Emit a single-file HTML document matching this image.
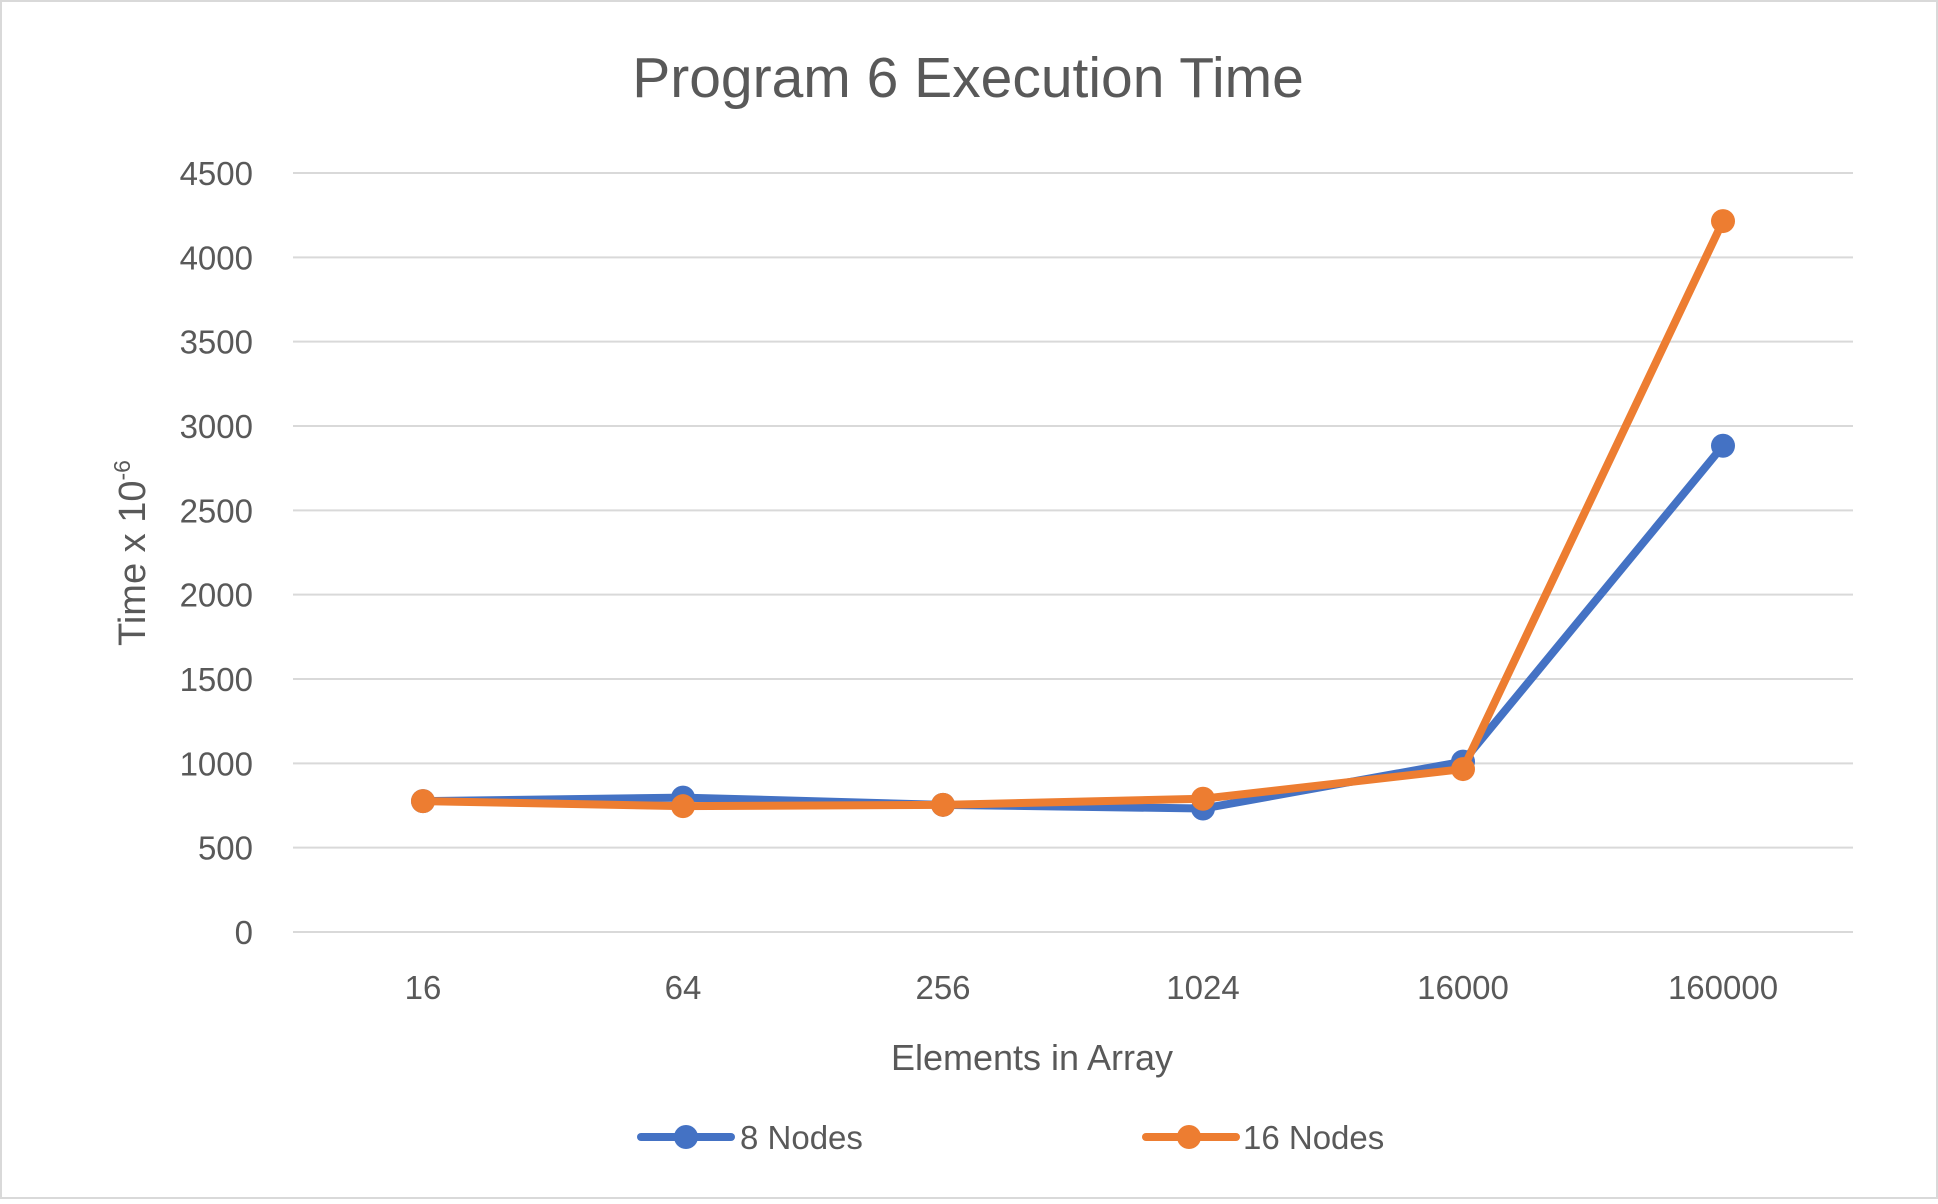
<!DOCTYPE html>
<html><head><meta charset="utf-8"><style>
html,body{margin:0;padding:0;background:#fff}
svg text{font-family:"Liberation Sans",sans-serif;fill:#595959}
</style></head><body>
<svg id="chart" width="1938" height="1199" viewBox="0 0 1938 1199" xmlns="http://www.w3.org/2000/svg">
<rect x="1" y="1" width="1936" height="1197" fill="#fff" stroke="#d9d9d9" stroke-width="2"/>
<text x="968" y="97" font-size="57" text-anchor="middle">Program 6 Execution Time</text>
<g id="grid"></g>
<g id="yticks"></g>
<g id="xticks"></g>
<g id="series"></g>
<text x="1032" y="1070" font-size="36" text-anchor="middle">Elements in Array</text>
<text transform="translate(145,553) rotate(-90)" font-size="38" text-anchor="middle">Time x 10<tspan font-size="23" dy="-15">-6</tspan></text>
<g>
<g>
<line x1="641" y1="1137" x2="731" y2="1137" stroke="#4472C4" stroke-width="8" stroke-linecap="round"/>
<circle cx="686" cy="1137" r="12" fill="#4472C4"/>
<text x="740" y="1149" font-size="33">8 Nodes</text></g>
<g>
<line x1="1146" y1="1137" x2="1236" y2="1137" stroke="#ED7D31" stroke-width="8" stroke-linecap="round"/>
<circle cx="1189" cy="1137" r="12" fill="#ED7D31"/>
<text x="1243" y="1149" font-size="33">16 Nodes</text></g>
</g>
</svg>
<script>
const categories=["16","64","256","1024","16000","160000"];
const nodes8=[776,797,754,732,1010,2883];
const nodes16=[776,746,754,790,966,4215];
const yTicks=[0,500,1000,1500,2000,2500,3000,3500,4000,4500];
const NS="http://www.w3.org/2000/svg";
const L=293,R=1853,T=173,B=932,YMAX=4500;
function x(i){return L+(R-L)/categories.length*(i+0.5);}
function y(v){return B-(B-T)*v/YMAX;}
function mk(tag,attrs,parent){const e=document.createElementNS(NS,tag);for(const k in attrs)e.setAttribute(k,attrs[k]);parent.appendChild(e);return e;}
const grid=document.getElementById('grid'),yt=document.getElementById('yticks'),xt=document.getElementById('xticks'),ser=document.getElementById('series');
yTicks.forEach(v=>{
 const g=mk('line',{x1:L,x2:R,y1:y(v),y2:y(v),stroke:'#d9d9d9','stroke-width':2},grid);
 
 
 const t=mk('text',{x:253,y:y(v)+12,'font-size':33,'text-anchor':'end'},yt);
 t.textContent=v;
 
 
});
categories.forEach((c,i)=>{
 const t=mk('text',{x:x(i),y:999,'font-size':33,'text-anchor':'middle'},xt);
 t.textContent=c;
 
 
});
function draw(vals,color,name){
 const g=mk('g',{},ser);
 
 
 const p=mk('polyline',{points:vals.map((v,i)=>x(i)+','+y(v)).join(' '),fill:'none',stroke:color,'stroke-width':8,'stroke-linejoin':'round'},g);
 
 
 vals.forEach((v,i)=>{
  const c=mk('circle',{cx:x(i),cy:y(v),r:12,fill:color},g);
  
  
 });
}
draw(nodes8,'#4472C4','series-8-nodes');
draw(nodes16,'#ED7D31','series-16-nodes');
</script>
</body></html>
